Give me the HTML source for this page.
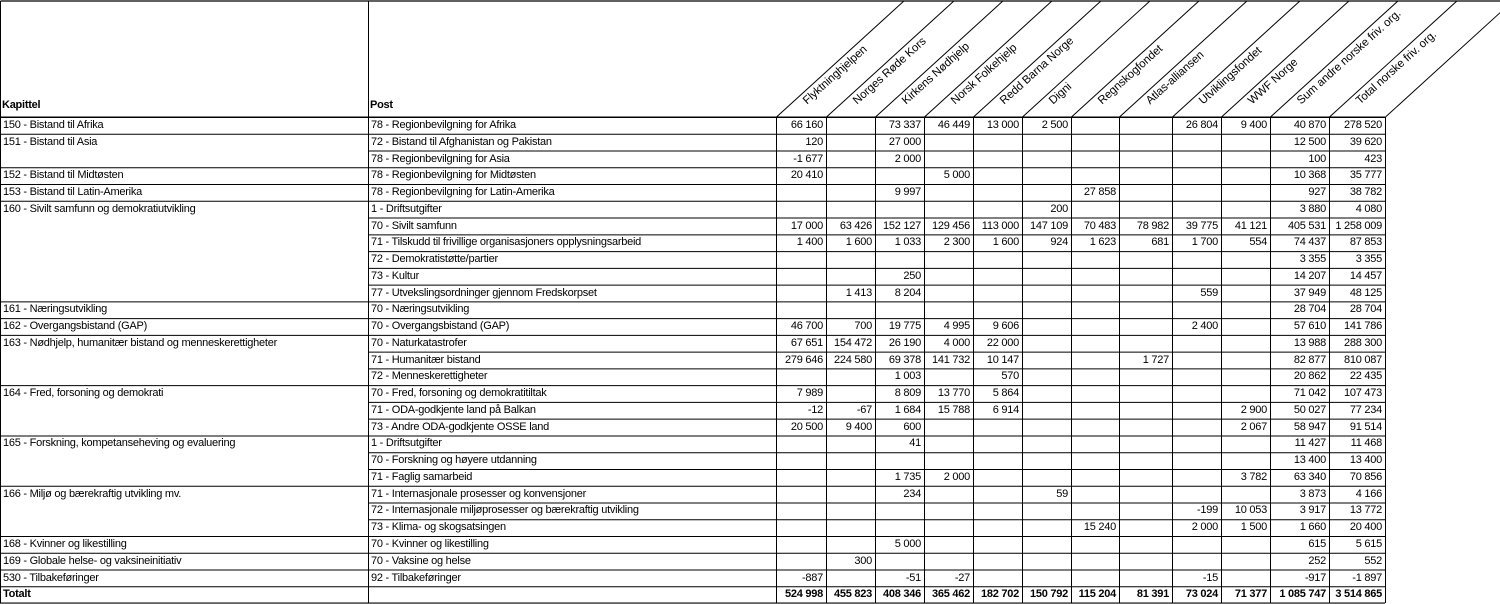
<!DOCTYPE html>
<html><head><meta charset="utf-8">
<style>
html,body{margin:0;padding:0;background:#fff;}
#wrap{position:relative;width:1500px;height:604px;overflow:hidden;font-family:"Liberation Sans",sans-serif;font-size:11px;color:#000;}
.t{position:absolute;white-space:nowrap;line-height:16px;letter-spacing:-0.25px;}
.n{text-align:right;}
.h{position:absolute;white-space:nowrap;transform-origin:0 100%;transform:rotate(-42deg);font-size:11.5px;line-height:12px;letter-spacing:-0.1px;}
svg{position:absolute;left:0;top:0;}
</style></head>
<body>
<div id="wrap">
<svg id="grid" width="1500" height="604"></svg>
</div>
<script>
const orgs = ["Flyktninghjelpen","Norges Røde Kors","Kirkens Nødhjelp","Norsk Folkehjelp","Redd Barna Norge","Digni","Regnskogfondet","Atlas-alliansen","Utviklingsfondet","WWF Norge","Sum andre norske friv. org.","Total norske friv. org."];
const chapters = ["150 - Bistand til Afrika","151 - Bistand til Asia","","152 - Bistand til Midtøsten","153 - Bistand til Latin-Amerika","160 - Sivilt samfunn og demokratiutvikling","","","","","","161 - Næringsutvikling","162 - Overgangsbistand (GAP)","163 - Nødhjelp, humanitær bistand og menneskerettigheter","","","164 - Fred, forsoning og demokrati","","","165 - Forskning, kompetanseheving og evaluering","","","166 - Miljø og bærekraftig utvikling mv.","","","168 - Kvinner og likestilling","169 - Globale helse- og vaksineinitiativ","530 - Tilbakeføringer"];
const posts = ["78 - Regionbevilgning for Afrika","72 - Bistand til Afghanistan og Pakistan","78 - Regionbevilgning for Asia","78 - Regionbevilgning for Midtøsten","78 - Regionbevilgning for Latin-Amerika","1 - Driftsutgifter","70 - Sivilt samfunn","71 - Tilskudd til frivillige organisasjoners opplysningsarbeid","72 - Demokratistøtte/partier","73 - Kultur","77 - Utvekslingsordninger gjennom Fredskorpset","70 - Næringsutvikling","70 - Overgangsbistand (GAP)","70 - Naturkatastrofer","71 - Humanitær bistand","72 - Menneskerettigheter","70 - Fred, forsoning og demokratitiltak","71 - ODA-godkjente land på Balkan","73 - Andre ODA-godkjente OSSE land","1 - Driftsutgifter","70 - Forskning og høyere utdanning","71 - Faglig samarbeid","71 - Internasjonale prosesser og konvensjoner","72 - Internasjonale miljøprosesser og bærekraftig utvikling","73 - Klima- og skogsatsingen","70 - Kvinner og likestilling","70 - Vaksine og helse","92 - Tilbakeføringer"];
const values = [
["66 160","","73 337","46 449","13 000","2 500","","","26 804","9 400","40 870","278 520"],
["120","","27 000","","","","","","","","12 500","39 620"],
["-1 677","","2 000","","","","","","","","100","423"],
["20 410","","","5 000","","","","","","","10 368","35 777"],
["","","9 997","","","","27 858","","","","927","38 782"],
["","","","","","200","","","","","3 880","4 080"],
["17 000","63 426","152 127","129 456","113 000","147 109","70 483","78 982","39 775","41 121","405 531","1 258 009"],
["1 400","1 600","1 033","2 300","1 600","924","1 623","681","1 700","554","74 437","87 853"],
["","","","","","","","","","","3 355","3 355"],
["","","250","","","","","","","","14 207","14 457"],
["","1 413","8 204","","","","","","559","","37 949","48 125"],
["","","","","","","","","","","28 704","28 704"],
["46 700","700","19 775","4 995","9 606","","","","2 400","","57 610","141 786"],
["67 651","154 472","26 190","4 000","22 000","","","","","","13 988","288 300"],
["279 646","224 580","69 378","141 732","10 147","","","1 727","","","82 877","810 087"],
["","","1 003","","570","","","","","","20 862","22 435"],
["7 989","","8 809","13 770","5 864","","","","","","71 042","107 473"],
["-12","-67","1 684","15 788","6 914","","","","","2 900","50 027","77 234"],
["20 500","9 400","600","","","","","","","2 067","58 947","91 514"],
["","","41","","","","","","","","11 427","11 468"],
["","","","","","","","","","","13 400","13 400"],
["","","1 735","2 000","","","","","","3 782","63 340","70 856"],
["","","234","","","59","","","","","3 873","4 166"],
["","","","","","","","","-199","10 053","3 917","13 772"],
["","","","","","","15 240","","2 000","1 500","1 660","20 400"],
["","","5 000","","","","","","","","615","5 615"],
["","300","","","","","","","","","252","552"],
["-887","","-51","-27","","","","","-15","","-917","-1 897"]
];
const totals = ["524 998","455 823","408 346","365 462","182 702","150 792","115 204","81 391","73 024","71 377","1 085 747","3 514 865"];

const wrap = document.getElementById('wrap');
const svg = document.getElementById('grid');
const colX = [776,826,875,924,973,1022,1071,1119,1172,1221,1270,1329,1385];
const headTop = 1, headBot = 117, rowH = 16.76;
const nRows = values.length + 1;
const yOf = i => headBot + i*rowH;
const bottom = yOf(nRows);
function line(x1,y1,x2,y2,c,w){
  const l = document.createElementNS('http://www.w3.org/2000/svg','line');
  l.setAttribute('x1',x1);l.setAttribute('y1',y1);l.setAttribute('x2',x2);l.setAttribute('y2',y2);
  l.setAttribute('stroke',c||'#000');l.setAttribute('stroke-width',w||1);
  
  
  svg.appendChild(l);
}
function txt(s,x,y,w,cls,name,bold){
  const d = document.createElement('div');
  d.className = 't'+(cls?' '+cls:'');
  d.style.left = x+'px'; d.style.top = y+'px';
  if(w) d.style.width = w+'px';
  if(bold) d.style.fontWeight = 'bold';
  d.textContent = s;
  
  
  wrap.appendChild(d);
}
line(0.5,headTop,1500,headTop,'#000',1.2);
line(0.5,headTop,0.5,bottom);
line(368.5,headTop,368.5,bottom);
line(0,headBot,1385,headBot);
const slope = 112/123;
colX.forEach(x=>{
  line(x+0.5,headBot,x+0.5,bottom);
  line(x+0.5,headBot,x+0.5+(headBot-headTop)/slope,headTop);
});
txt('Kapittel',2,97,0,'', 'kapittel-header',true);
txt('Post',370,97,0,'', 'post-header',true);
orgs.forEach((o,i)=>{
  const d = document.createElement('div');
  d.className='h';
  d.style.left=(colX[i]+33)+'px';
  d.style.top=(headBot-22)+'px';
  d.textContent=o;
  
  
  wrap.appendChild(d);
});
values.forEach((row,r)=>{
  const y = yOf(r);
  const newGroup = chapters[r] !== '';
  line(newGroup?0:368, y+0.5, 1385, y+0.5, '#000', 1);
  if(newGroup) txt(chapters[r],3,y,360,'','chapter-label');
  txt(posts[r],371,y,400,'','post-label');
  row.forEach((v,c)=>{
    if(v) txt(v,colX[c],y,colX[c+1]-colX[c]-3,'n','value-cell');
  });
});
const ty = yOf(values.length);
line(0,ty+0.5,1385,ty+0.5,'#000',1);
line(0,bottom,1385,bottom,'#000',1.2);
txt('Totalt',3,ty,100,'','total-label',true);
totals.forEach((v,c)=>txt(v,colX[c],ty,colX[c+1]-colX[c]-3,'n','total-cell',true));
</script>
</body></html>
